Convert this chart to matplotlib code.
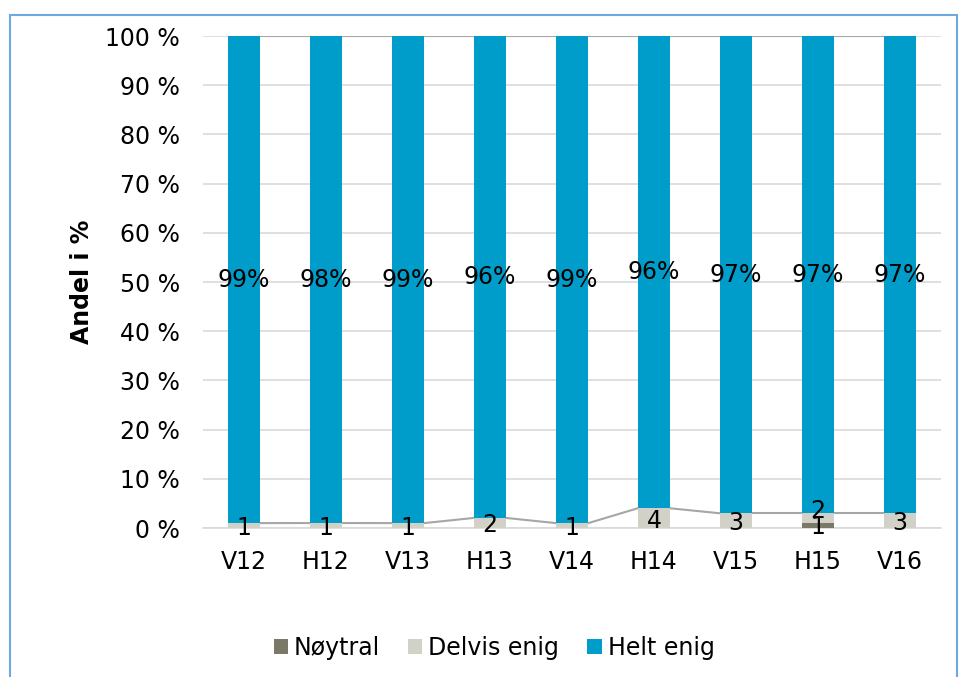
import matplotlib.pyplot as plt
import matplotlib.patches as patches
import numpy as np

categories = ["V12", "H12", "V13", "H13", "V14", "H14", "V15", "H15", "V16"]
noytral = [0, 0, 0, 0, 0, 0, 0, 1, 0]
delvis = [1, 1, 1, 2, 1, 4, 3, 2, 3]
helt = [99, 98, 99, 96, 99, 96, 97, 97, 97]

col_noytral = "#7a7866"
col_delvis = "#d2d1c8"
col_helt = "#009dcb"

fig = plt.figure(figsize=(9.59, 6.77), dpi=100)
ax = fig.add_axes([203 / 959, 149 / 677, 738 / 959, 492 / 677])

# normalize to 100 %
tot = np.array(noytral) + np.array(delvis) + np.array(helt)
n_pct = np.array(noytral) / tot * 100
d_pct = np.array(delvis) / tot * 100
h_pct = np.array(helt) / tot * 100

x = np.arange(len(categories))
w = 0.4
ax.bar(x, n_pct, w, color=col_noytral, label="Nøytral", zorder=3)
ax.bar(x, d_pct, w, bottom=n_pct, color=col_delvis, label="Delvis enig", zorder=3)
ax.bar(x, h_pct, w, bottom=n_pct + d_pct, color=col_helt, label="Helt enig", zorder=3)

# series lines between bars
tops_d = n_pct + d_pct
for i in range(len(x) - 1):
    ax.plot([x[i] + w / 2, x[i + 1] - w / 2], [tops_d[i], tops_d[i + 1]],
            color="#a6a6a6", lw=1.5, zorder=2)
    ax.plot([x[i] + w / 2, x[i + 1] - w / 2], [100, 100],
            color="#a6a6a6", lw=1.5, zorder=2)

# data labels
fs = 17
for i in range(len(x)):
    if noytral[i]:
        ax.text(x[i], n_pct[i] / 2 - 0.3, str(noytral[i]), ha="center", va="center",
                fontsize=fs, zorder=5)
    ax.text(x[i], n_pct[i] + d_pct[i] / 2 + (1.5 if noytral[i] else -0.5), str(delvis[i]),
            ha="center", va="center", fontsize=fs, zorder=5)
    ax.text(x[i], tops_d[i] + h_pct[i] / 2, f"{helt[i]}%", ha="center", va="center",
            fontsize=fs, zorder=5)

ax.set_xlim(-0.5, len(x) - 0.5)
ax.set_ylim(0, 100)
ax.set_yticks(np.arange(0, 101, 10))
ax.set_yticklabels([f"{v} %" for v in range(0, 101, 10)], fontsize=fs)
ax.set_xticks(x)
ax.set_xticklabels(categories, fontsize=fs)
ax.tick_params(axis="both", length=0)
ax.tick_params(axis="y", pad=16.5)
ax.tick_params(axis="x", pad=16)
ax.yaxis.grid(True, color="#d9d9d9", lw=1.2, zorder=0)
for s in ["top", "right", "left"]:
    ax.spines[s].set_visible(False)
ax.spines["bottom"].set_color("#d9d9d9")
ax.spines["bottom"].set_linewidth(1.2)
ax.set_ylabel("Andel i %", fontsize=17, fontweight="bold", labelpad=8)

leg = fig.legend(loc="center", bbox_to_anchor=(494 / 959, 29 / 677), ncol=3,
                 frameon=False, fontsize=fs, handlelength=0.6, handleheight=0.6,
                 handletextpad=0.25, columnspacing=1.2)

# outer border
fig.patches.append(patches.Rectangle((10 / 959, -0.01), 947 / 959, 1 - 15 / 677 + 0.01,
                                     transform=fig.transFigure, fill=False,
                                     edgecolor="#6fa8dc", lw=1.5))

fig.savefig("out.png", dpi=100)
